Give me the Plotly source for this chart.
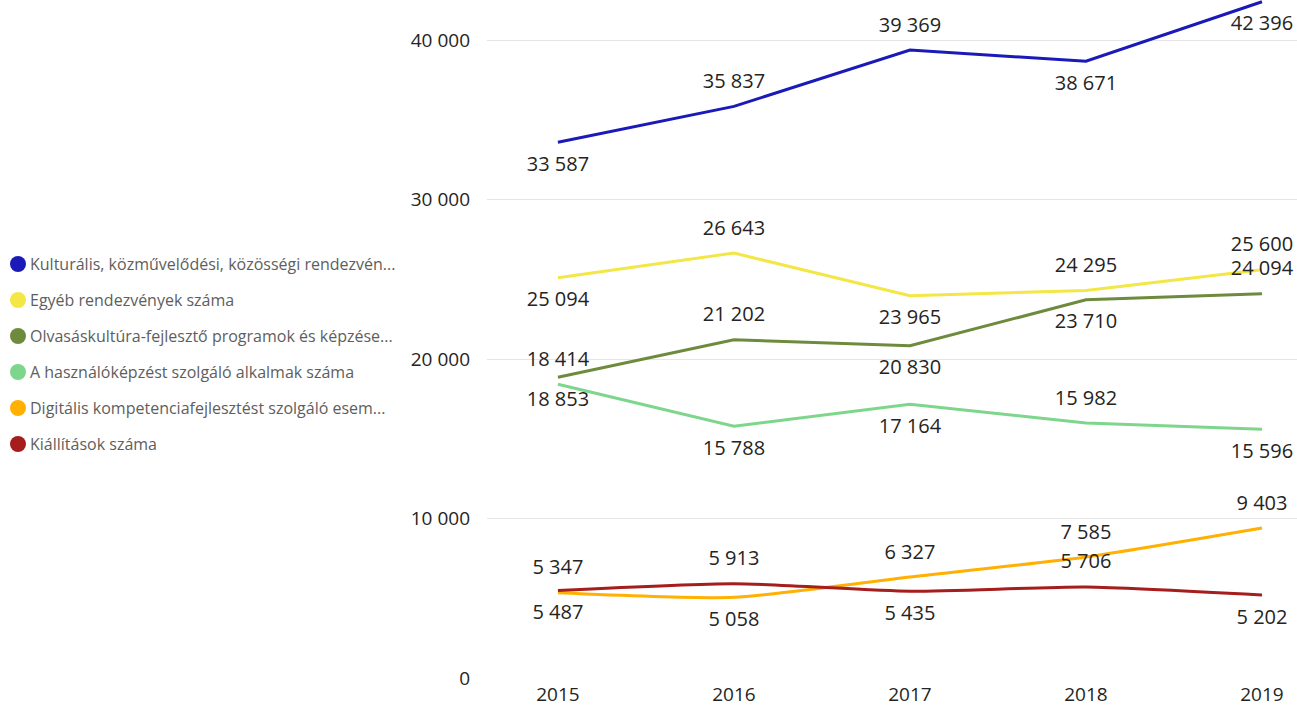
import plotly.graph_objects as go

years = [2015, 2016, 2017, 2018, 2019]
tick_labels = ["2015", "2016", "2017", "2018", "2019"]

names = [
    "Kulturális, közművelődési, közösségi rendezvén...",
    "Egyéb rendezvények száma",
    "Olvasáskultúra-fejlesztő programok és képzése...",
    "A használóképzést szolgáló alkalmak száma",
    "Digitális kompetenciafejlesztést szolgáló esem...",
    "Kiállítások száma",
]

kulturalis = [33587, 35837, 39369, 38671, 42396]
egyeb = [25094, 26643, 23965, 24295, 25600]
olvasas = [18853, 21202, 20830, 23710, 24094]
hasznalo = [18414, 15788, 17164, 15982, 15596]
digitalis = [5347, 5058, 6327, 7585, 9403]
kiallitas = [5487, 5913, 5435, 5706, 5202]

series = [kulturalis, egyeb, olvasas, hasznalo, digitalis, kiallitas]
colors = ["#1A1AB8", "#F2E745", "#6E8B3D", "#7DD68C", "#FFB000", "#A51D1D"]
positions = [
    ["bottom center", "top center", "top center", "bottom center", "bottom center"],
    ["bottom center", "top center", "bottom center", "top center", "top center"],
    ["bottom center", "top center", "bottom center", "bottom center", "top center"],
    ["top center", "bottom center", "bottom center", "top center", "bottom center"],
    ["top center", "bottom center", "top center", "top center", "top center"],
    ["bottom center", "top center", "bottom center", "top center", "bottom center"],
]
shapes = ["linear", "linear", "linear", "linear", "spline", "spline"]


def fmt(v):
    return f"{v:,}".replace(",", " ")


W, H = 1297, 706
ML, MR, MT, MB = 487, 0, 0, 28
PW, PH = W - ML - MR, H - MT - MB

fig = go.Figure()
font_family = "Segoe UI, Open Sans, Noto Sans, sans-serif"

for name, vals, col, pos, shp in zip(names, series, colors, positions, shapes):
    fig.add_trace(go.Scatter(
        x=years, y=vals, mode="lines+markers+text", name=name,
        line=dict(color=col, width=3, shape=shp, smoothing=0.6),
        marker=dict(size=20, color="rgba(0,0,0,0)"),
        text=[fmt(v) for v in vals], textposition=pos,
        textfont=dict(size=20, color="#252423", family=font_family),
        cliponaxis=False, showlegend=False, hoverinfo="skip",
    ))

# legend drawn as circles + text on the left side
legend_shapes = []
legend_annots = []
for i, (name, col) in enumerate(zip(names, colors)):
    py = 264 + 36 * i
    yp = (H - MB - py) / PH
    legend_shapes.append(dict(
        type="circle", xref="paper", yref="paper",
        xsizemode="pixel", ysizemode="pixel",
        xanchor=(18 - ML) / PW, yanchor=yp,
        x0=-8, x1=8, y0=-8, y1=8,
        fillcolor=col, line=dict(width=0),
    ))
    legend_annots.append(dict(
        xref="paper", yref="paper", x=(28 - ML) / PW, y=yp,
        xanchor="left", yanchor="middle", showarrow=False,
        text=name, font=dict(size=16, color="#605E5C", family=font_family),
    ))

fig.update_layout(
    width=W, height=H,
    margin=dict(l=ML, r=MR, t=MT, b=MB),
    paper_bgcolor="white", plot_bgcolor="white",
    font=dict(family=font_family, color="#252423"),
    showlegend=False,
    shapes=legend_shapes,
    annotations=legend_annots,
    xaxis=dict(
        range=[2014.597, 2019.199], tickvals=years, ticktext=tick_labels,
        showgrid=False, zeroline=False, showline=False, automargin=False,
        tickfont=dict(size=19, color="#252423"), ticks="", ticklabelstandoff=3,
    ),
    yaxis=dict(
        range=[0, 42508], tickvals=[0, 10000, 20000, 30000, 40000],
        ticktext=["0", "10 000", "20 000", "30 000", "40 000"],
        showgrid=True, gridcolor="#E6E6E6", gridwidth=1, automargin=False,
        zeroline=False, showline=False, ticks="", ticklabelstandoff=16,
        tickfont=dict(size=19, color="#252423"),
    ),
)

fig.write_html(
    "out.html",
    config={"displayModeBar": False},
    post_script="document.body.style.margin='0';document.body.style.overflow='hidden';",
)
